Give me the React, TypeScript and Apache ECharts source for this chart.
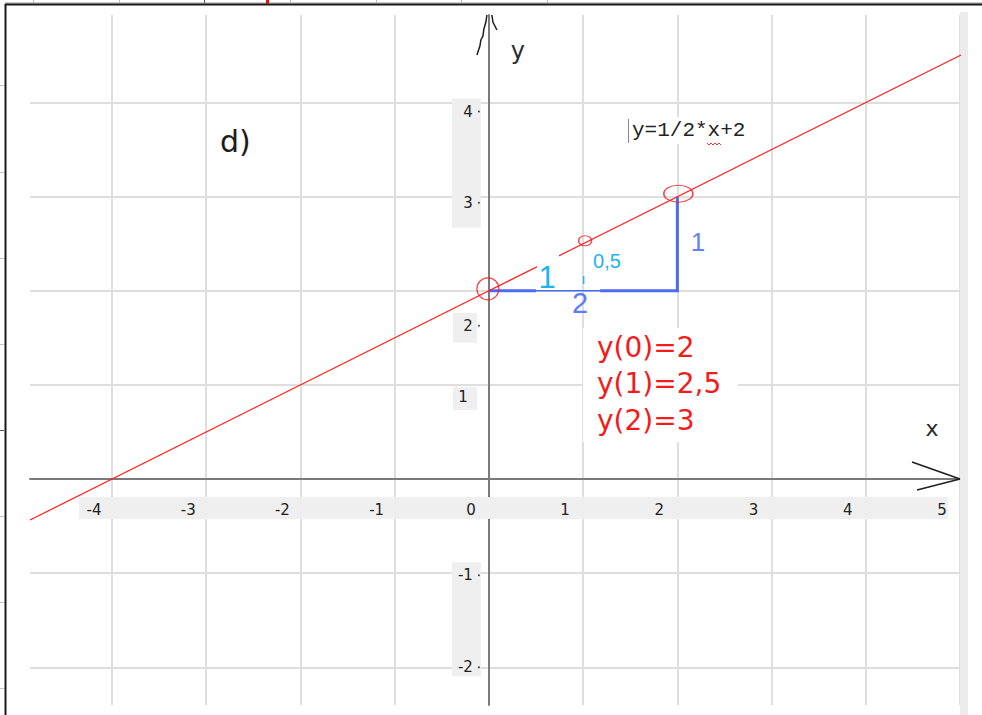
import { useEffect, useRef } from "react";
import * as echarts from "echarts";

// Visible window of the coordinate plane
const X_MIN = -4.87;
const X_MAX = 5.01;
const Y_MIN = -2.4;
const Y_MAX = 4.93;

// Grid lines and tick labels
const xTicks = [-4, -3, -2, -1, 0, 1, 2, 3, 4, 5];
const yGridValues = [-2, -1, 0, 1, 2, 3, 4];
const yTicks = [4, 3, 2, 1, -1, -2];
const yTickTexts = ["4", "3", "2", "1", "-1", "-2"];

// Graph of y = 1/2*x + 2 across the window
const lineXs = [-4.87, 0, 1, 2, 5.01];
const lineYs = [-0.435, 2, 2.5, 3, 4.505];

// Highlighted points and their values
const markedXs = [0, 1, 2];
const markedYs = [2, 2.5, 3];
const markedTexts = ["y(0)=2", "y(1)=2,5", "y(2)=3"];

// Slope triangle: run of 2 along y = 2, rise of 1 at x = 2
const runStops = [0, 0.5, 1.18, 2];
const runY = 2;
const riseX = 2;
const riseYs = [2, 3];

const FORMULA = "y=1/2*x+2";
const PART = "d)";

// ---- styling / layout ----
const GRID_COLOR = "#dedede";
const AXIS_COLOR = "#7b7b7b";
const RED = "#f21c1c";
const BLUE = "#4b6cf2";
const CYAN = "#22b2ee";
const LABEL_FONT = "15px 'DejaVu Sans', Verdana, sans-serif";
const ELLIPSE =
  "path://M1,0 C1.552,0 2,0.448 2,1 C2,1.552 1.552,2 1,2 C0.448,2 0,1.552 0,1 C0,0.448 0.448,0 1,0 Z";
const RING_SIZES = [
  [22, 22],
  [13, 10],
  [29, 17],
];
const RING_OFFSETS = [
  [-1, -2],
  [2, -3],
  [1, -3],
];
// vertical shift of each y tick label below its grid line, and right-edge inset
const Y_LABEL_DY = [9, 6, 35, 12, 2, 0];
const Y_LABEL_DX = [16, 16, 16, 21, 16, 16];
const Y_LABEL_DOT = [true, true, true, false, true, true];

function buildOption(): any {
  return {
    animation: false,
    backgroundColor: "#ffffff",
    grid: { left: 30, right: 21, top: 15, bottom: 10, containLabel: false, outerBoundsMode: "none" },
    xAxis: {
      type: "value",
      min: X_MIN,
      max: X_MAX,
      axisLine: { show: true, onZero: true, lineStyle: { color: AXIS_COLOR, width: 2 } },
      axisTick: { show: false, customValues: xTicks },
      axisLabel: { show: false, customValues: xTicks },
      splitLine: { show: true, lineStyle: { color: GRID_COLOR, width: 2 } },
    },
    yAxis: {
      type: "value",
      min: Y_MIN,
      max: Y_MAX,
      axisLine: { show: true, onZero: true, lineStyle: { color: AXIS_COLOR, width: 2 } },
      axisTick: { show: false, customValues: yGridValues },
      axisLabel: { show: false, customValues: yGridValues },
      splitLine: { show: true, lineStyle: { color: GRID_COLOR, width: 2 } },
    },
    series: [
      {
        name: "run",
        type: "line",
        z: 2,
        showSymbol: false,
        silent: true,
        lineStyle: { color: BLUE, width: 3, cap: "butt" },
        data: [[runStops[0], runY], [runStops[1], runY]],
      },
      {
        name: "run-mid",
        type: "line",
        z: 2,
        showSymbol: false,
        silent: true,
        lineStyle: { color: BLUE, width: 1.4, cap: "butt" },
        data: [[runStops[1], runY], [runStops[2], runY]],
      },
      {
        name: "run-rise",
        type: "line",
        z: 2,
        showSymbol: false,
        silent: true,
        lineStyle: { color: BLUE, width: 3, cap: "butt", join: "miter" },
        data: [[runStops[2], runY], [runStops[3], runY], [riseX, riseYs[0]], [riseX, riseYs[1]]],
      },
      {
        name: "y=1/2*x+2",
        type: "line",
        z: 3,
        showSymbol: false,
        silent: true,
        lineStyle: { color: "#ff1a1a", width: 1.2 },
        data: lineXs.map((x, i) => [x, lineYs[i]]),
      },
      {
        name: "points",
        type: "scatter",
        z: 4,
        silent: true,
        symbol: ELLIPSE,
        itemStyle: { color: "rgba(0,0,0,0)", borderColor: RED, borderWidth: 1.3 },
        data: markedXs.map((x, i) => ({
          value: [x, markedYs[i]],
          symbolSize: RING_SIZES[i],
          symbolOffset: RING_OFFSETS[i],
        })),
      },
    ],
  };
}

function buildGraphics(px: (x: number, y: number) => number[]): any[] {
  const g: any[] = [];
  const [ox, oy] = px(0, 0);
  const [xEnd] = px(X_MAX, 0);
  const [, yTop] = px(0, Y_MAX);

  // grey strip behind the x tick labels
  const [xl] = px(xTicks[0], 0);
  const [xr] = px(xTicks[xTicks.length - 1], 0);
  g.push({ type: "rect", z: 1, shape: { x: xl - 33, y: oy + 18, width: xr - 12 - (xl - 33), height: 22 }, style: { fill: "#efefef" } });
  xTicks.forEach((t) => {
    const [x] = px(t, 0);
    g.push({
      type: "text",
      z: 2,
      x: x - 18,
      y: oy + 31,
      style: { text: String(t), font: LABEL_FONT, fill: "#222", textAlign: "center", textVerticalAlign: "middle" },
    });
  });

  // grey strips behind the y tick labels
  const py = (v: number) => px(0, v)[1];
  const yBands = [
    [ox - 37, py(4) - 4, 29, py(3) + 31 - (py(4) - 4)],
    [ox - 36, py(2) + 22, 24, 30],
    [ox - 36, py(1) + 2, 24, 23],
    [ox - 37, py(-1) - 11, 29, py(-2) + 9 - (py(-1) - 11)],
  ];
  yBands.forEach(([x, y, w, h]) => g.push({ type: "rect", z: 1, shape: { x, y, width: w, height: h }, style: { fill: "#efefef" } }));
  yTicks.forEach((t, i) => {
    const y = py(t) + Y_LABEL_DY[i];
    g.push({
      type: "text",
      z: 2,
      x: ox - Y_LABEL_DX[i],
      y,
      style: { text: yTickTexts[i], font: LABEL_FONT, fill: "#222", textAlign: "right", textVerticalAlign: "middle" },
    });
    if (Y_LABEL_DOT[i]) {
      g.push({ type: "circle", z: 2, shape: { cx: ox - 10, cy: y, r: 0.9 }, style: { fill: "#333" } });
    }
  });

  // light grey bar along the right edge
  g.push({ type: "rect", z: 1, shape: { x: xEnd - 1, y: 12, width: 8, height: 715 }, style: { fill: "#ececec" } });

  // axis arrows
  const ink = { stroke: "#1e1e1e", lineWidth: 1.5, fill: "none" };
  g.push({ type: "line", z: 20, shape: { x1: xEnd - 49, y1: oy - 17, x2: xEnd - 1, y2: oy }, style: ink });
  g.push({ type: "line", z: 20, shape: { x1: xEnd - 44, y1: oy + 11, x2: xEnd - 1, y2: oy }, style: ink });
  g.push({
    type: "polyline",
    z: 20,
    shape: {
      points: [
        [ox - 12, yTop + 40],
        [ox - 10, yTop + 34],
        [ox - 9, yTop + 31],
        [ox - 8, yTop + 25],
        [ox - 6, yTop + 21],
        [ox - 5, yTop + 14],
        [ox - 3, yTop + 7],
        [ox - 2, yTop],
      ],
    },
    style: ink,
  });
  g.push({
    type: "polyline",
    z: 20,
    shape: { points: [[ox + 3, yTop], [ox + 4, yTop + 7], [ox + 6, yTop + 11], [ox + 8, yTop + 15]] },
    style: ink,
  });
  g.push({ type: "text", z: 20, x: ox + 29, y: yTop + 36, style: { text: "y", font: "24px 'DejaVu Sans', sans-serif", fill: "#2b2b2b", textAlign: "center", textVerticalAlign: "middle" } });
  g.push({ type: "text", z: 20, x: xEnd - 29, y: oy - 51, style: { text: "x", font: "22px 'DejaVu Sans', sans-serif", fill: "#2b2b2b", textAlign: "center", textVerticalAlign: "middle" } });

  // part label
  g.push({ type: "text", z: 20, x: 220, y: 141, style: { text: PART, font: "30px 'DejaVu Sans', Verdana, sans-serif", fill: "#1c1c1c", textAlign: "left", textVerticalAlign: "middle" } });

  // formula with text cursor and spell-check squiggle
  g.push({ type: "rect", z: 9, shape: { x: 627, y: 117, width: 122, height: 27 }, style: { fill: "#ffffff" } });
  g.push({ type: "line", z: 10, shape: { x1: 628.5, y1: 119, x2: 628.5, y2: 143 }, style: { stroke: "#8a8a8a", lineWidth: 1 } });
  g.push({ type: "text", z: 10, x: 632, y: 130, style: { text: FORMULA, font: "21px 'Liberation Mono', 'DejaVu Sans Mono', monospace", fill: "#222", textAlign: "left", textVerticalAlign: "middle" } });
  g.push({
    type: "polyline",
    z: 10,
    shape: { points: [[707, 143], [709, 145], [711, 143], [713, 145], [715, 143], [717, 145], [719, 143], [721, 145]] },
    style: { stroke: "#e33", lineWidth: 1, fill: "none" },
  });

  // values of the highlighted points
  g.push({ type: "rect", z: 9, shape: { x: 583, y: 328, width: 155, height: 114 }, style: { fill: "#ffffff" } });
  markedTexts.forEach((t, i) => {
    g.push({ type: "text", z: 10, x: 597, y: 347 + i * 36.5, style: { text: t, font: "28px 'DejaVu Sans', Verdana, sans-serif", fill: RED, textAlign: "left", textVerticalAlign: "middle" } });
  });

  // triangle annotations
  g.push({ type: "rect", z: 9, shape: { x: 537, y: 254, width: 22, height: 34 }, style: { fill: "#ffffff" } });
  g.push({ type: "text", z: 10, x: 547, y: 277, style: { text: "1", font: "31px 'Liberation Sans', Arial, sans-serif", fill: CYAN, textAlign: "center", textVerticalAlign: "middle" } });
  g.push({ type: "text", z: 10, x: 580, y: 303, style: { text: "2", font: "29px 'Liberation Sans', Arial, sans-serif", fill: "#5b7cf2", textAlign: "center", textVerticalAlign: "middle" } });
  g.push({ type: "text", z: 10, x: 698, y: 242, style: { text: "1", font: "26px 'Liberation Sans', Arial, sans-serif", fill: "#6582f2", textAlign: "center", textVerticalAlign: "middle" } });
  g.push({ type: "text", z: 10, x: 607, y: 261, style: { text: "0,5", font: "20px 'Liberation Sans', Arial, sans-serif", fill: CYAN, textAlign: "center", textVerticalAlign: "middle" } });
  const [mx] = px(1, 0);
  g.push({ type: "line", z: 10, shape: { x1: mx + 0.5, y1: 276, x2: mx + 0.5, y2: 284 }, style: { stroke: CYAN, lineWidth: 1.5 } });

  // page frame and marks outside it
  g.push({ type: "line", z: 20, shape: { x1: 5, y1: 3, x2: 982, y2: 3 }, style: { stroke: "#9a9a9a", lineWidth: 1 } });
  g.push({ type: "line", z: 20, shape: { x1: 5, y1: 4.5, x2: 982, y2: 4.5 }, style: { stroke: "#1a1a1a", lineWidth: 2 } });
  g.push({ type: "line", z: 20, shape: { x1: 5.5, y1: 4, x2: 5.5, y2: 715 }, style: { stroke: "#1a1a1a", lineWidth: 2 } });
  [33, 119, 290, 376, 461, 547].forEach((x) =>
    g.push({ type: "line", z: 20, shape: { x1: x + 0.5, y1: 0, x2: x + 0.5, y2: 3 }, style: { stroke: "#bcbcbc", lineWidth: 1 } })
  );
  g.push({ type: "line", z: 20, shape: { x1: 204.5, y1: 0, x2: 204.5, y2: 3 }, style: { stroke: "#555", lineWidth: 1 } });
  g.push({ type: "rect", z: 20, shape: { x: 266, y: 0, width: 3, height: 4 }, style: { fill: "#e01010" } });
  [85, 172, 258, 344, 516, 602, 688].forEach((y) =>
    g.push({ type: "line", z: 20, shape: { x1: 0, y1: y + 0.5, x2: 4, y2: y + 0.5 }, style: { stroke: "#c4c4c4", lineWidth: 1 } })
  );
  g.push({ type: "line", z: 20, shape: { x1: 0, y1: 430.5, x2: 4, y2: 430.5 }, style: { stroke: "#555", lineWidth: 1 } });

  return g;
}

export default function App() {
  const ref = useRef<HTMLDivElement>(null);
  useEffect(() => {
    document.body.style.margin = "0";
    const el = ref.current;
    if (!el) return;
    const chart = echarts.init(el, null, { renderer: "svg" });
    chart.setOption(buildOption());
    const px = (x: number, y: number) => chart.convertToPixel({ gridIndex: 0 }, [x, y]) as number[];
    chart.setOption({ graphic: { elements: buildGraphics(px) } });
    return () => chart.dispose();
  }, []);
  return <div ref={ref} style={{ width: 982, height: 715 }} />;
}
